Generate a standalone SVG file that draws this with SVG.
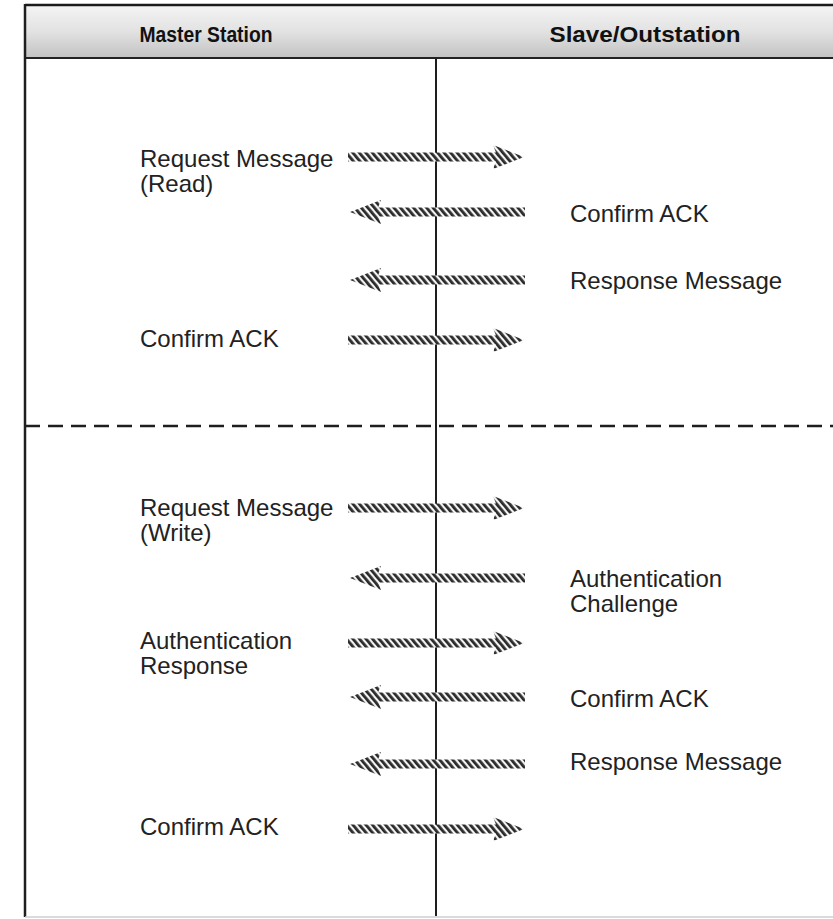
<svg xmlns="http://www.w3.org/2000/svg" width="833" height="919" viewBox="0 0 833 919">
  <defs>
    <linearGradient id="hdr" x1="0" y1="0" x2="0" y2="1">
      <stop offset="0" stop-color="#f4f4f4"/>
      <stop offset="0.5" stop-color="#e2e2e2"/>
      <stop offset="1" stop-color="#c2c2c2"/>
    </linearGradient>
    <!-- diagonal hatching used to fill the message arrows -->
    <pattern id="hatch" patternUnits="userSpaceOnUse" width="5" height="5" patternTransform="rotate(-40)">
      <rect width="5" height="5" fill="#f4f4f4"/>
      <rect width="2.8" height="5" fill="#2a2a2a"/>
    </pattern>
    <!-- right-pointing message arrow, origin at the shaft's left end -->
    <path id="arrowR" d="M0,-4.5 L148,-4.5 L145,-12 L176,0 L145,12 L148,4.5 L0,4.5 Z"/>
    <!-- left-pointing message arrow, origin at the tip -->
    <path id="arrowL" d="M0,0 L31,-12 L28,-4.5 L175,-4.5 L175,4.5 L28,4.5 L31,12 Z"/>
  </defs>
  <style>
    .lbl { font-family: "Liberation Sans", Arial, sans-serif; font-size: 24px; fill: #222; }
    .hd { font-family: "Liberation Sans", Arial, sans-serif; font-size: 22px; font-weight: bold; fill: #111; }
    .msg { fill: url(#hatch); }
  </style>

  <rect width="833" height="919" fill="#ffffff"/>

  <!-- header band -->
  <g id="header">
    <rect x="25" y="5" width="808" height="53" fill="url(#hdr)"/>
    <line x1="25" y1="5" x2="833" y2="5" stroke="#1a1a1a" stroke-width="2.5"/>
    <line x1="25" y1="58" x2="833" y2="58" stroke="#222" stroke-width="2.2"/>
    <text class="hd" x="206" y="42" text-anchor="middle" textLength="133" lengthAdjust="spacingAndGlyphs">Master Station</text>
    <text class="hd" x="645" y="42" text-anchor="middle" textLength="191" lengthAdjust="spacingAndGlyphs">Slave/Outstation</text>
  </g>

  <!-- frame, lifelines and section divider -->
  <g id="frame">
    <line x1="25" y1="4" x2="25" y2="917" stroke="#1e1e1e" stroke-width="2.5"/>
    <line x1="25" y1="917" x2="833" y2="917" stroke="#cfcfcf" stroke-width="1.5"/>
    <line x1="436" y1="58" x2="436" y2="916" stroke="#1e1e1e" stroke-width="2"/>
    <line x1="25" y1="426" x2="833" y2="426" stroke="#1e1e1e" stroke-width="2.5" stroke-dasharray="15 8"/>
  </g>

  <!-- messages -->
  <g id="connectors" class="msg">
    <use href="#arrowR" x="348" y="157"/>
    <use href="#arrowL" x="350" y="212"/>
    <use href="#arrowL" x="350" y="280"/>
    <use href="#arrowR" x="348" y="340"/>
    <use href="#arrowR" x="348" y="508"/>
    <use href="#arrowL" x="350" y="578"/>
    <use href="#arrowR" x="348" y="643"/>
    <use href="#arrowL" x="350" y="697"/>
    <use href="#arrowL" x="350" y="764"/>
    <use href="#arrowR" x="348" y="829"/>
  </g>

  <!-- labels, read exchange -->
  <g id="read-request"><text class="lbl" x="140" y="167">Request Message</text><text class="lbl" x="140" y="192">(Read)</text></g>
  <g id="read-confirm-out"><text class="lbl" x="570" y="222">Confirm ACK</text></g>
  <g id="read-response"><text class="lbl" x="570" y="289">Response Message</text></g>
  <g id="read-confirm-master"><text class="lbl" x="140" y="347">Confirm ACK</text></g>

  <!-- labels, authenticated write exchange -->
  <g id="write-request"><text class="lbl" x="140" y="516">Request Message</text><text class="lbl" x="140" y="541">(Write)</text></g>
  <g id="auth-challenge"><text class="lbl" x="570" y="587">Authentication</text><text class="lbl" x="570" y="612">Challenge</text></g>
  <g id="auth-response"><text class="lbl" x="140" y="649">Authentication</text><text class="lbl" x="140" y="674">Response</text></g>
  <g id="write-confirm-out"><text class="lbl" x="570" y="707">Confirm ACK</text></g>
  <g id="write-response"><text class="lbl" x="570" y="770">Response Message</text></g>
  <g id="write-confirm-master"><text class="lbl" x="140" y="835">Confirm ACK</text></g>
</svg>
